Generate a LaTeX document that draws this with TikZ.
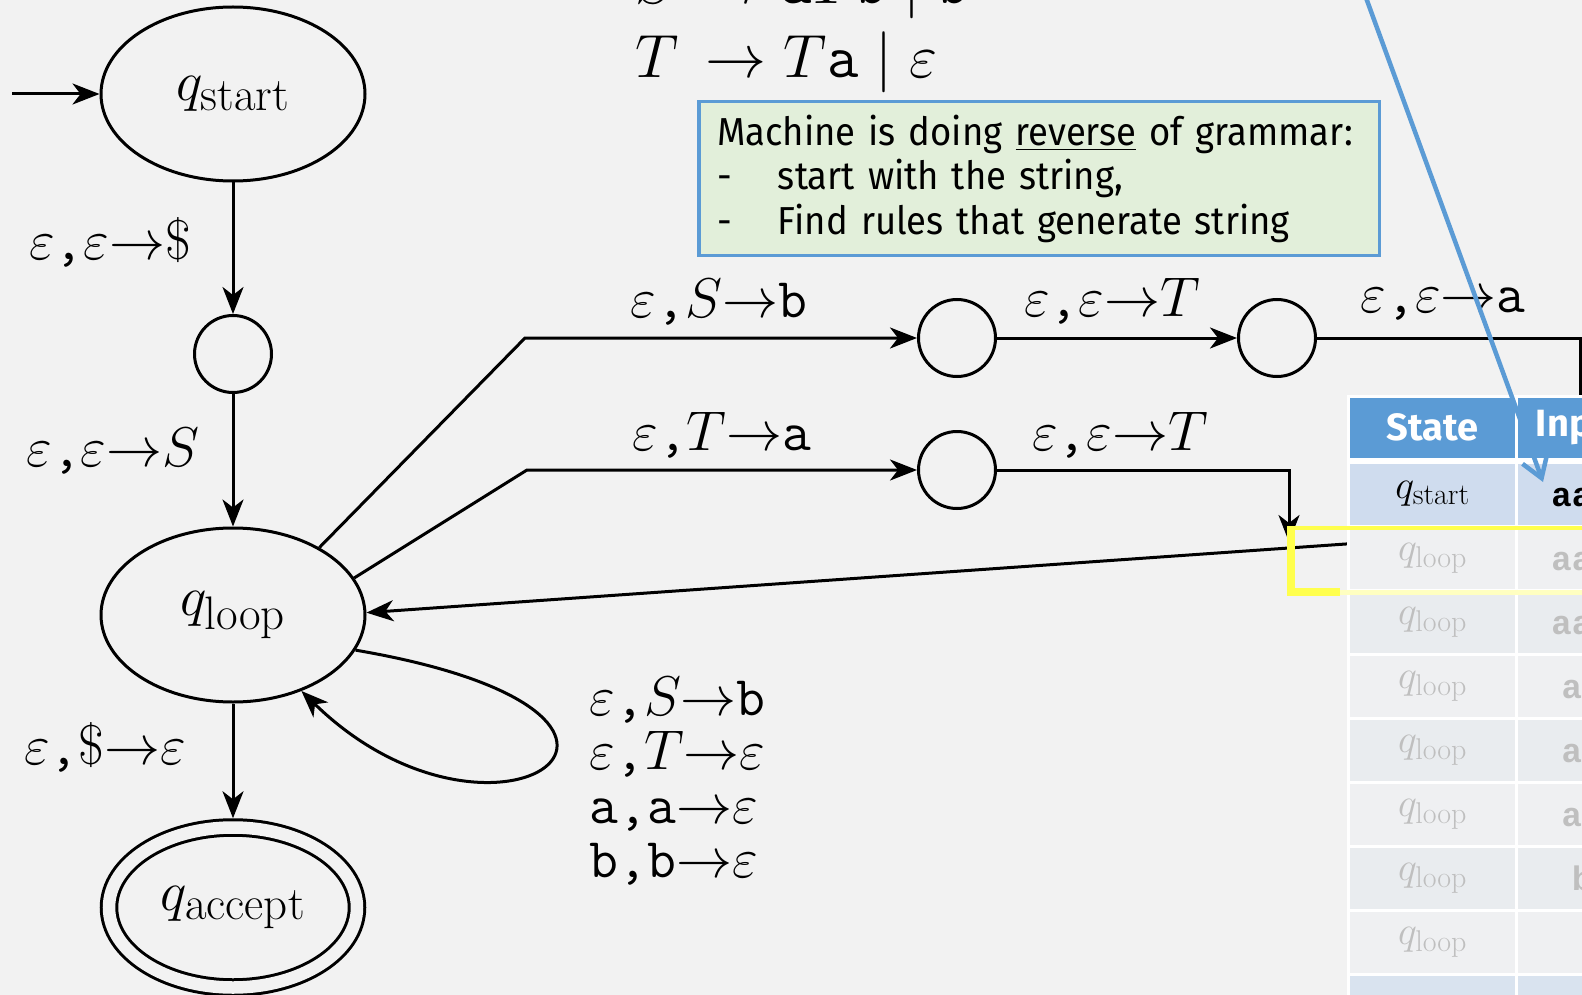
\documentclass[tikz,border=0pt]{standalone}
\usepackage{fix-cm}
\usepackage{amsmath}
\usepackage{fontspec}
\usepackage{tikz}
\usetikzlibrary{shapes.geometric,arrows.meta}

\newfontfamily\slidefont[FakeStretch=0.935]{Fira Sans}
\newfontfamily\headfont{Fira Sans}
\newfontfamily\codefont{Liberation Mono}

\DeclareMathSizes{56}{56}{47}{34}
\DeclareMathSizes{40}{40}{30}{22}

\definecolor{bg}{HTML}{F2F2F2}
\definecolor{slideblue}{HTML}{5B9BD5}
\definecolor{notegreen}{HTML}{E2EFDA}
\definecolor{rowblue}{HTML}{CFDCEE}
\definecolor{rowlight}{HTML}{EFF0F2}
\definecolor{rowdark}{HTML}{E9ECEF}
\definecolor{fadetext}{HTML}{BFBFBF}
\definecolor{hilite}{HTML}{FFFF4D}

\newcommand{\edgelab}[3]{$#1$\texttt{,}$#2{\to}#3$}

\begin{document}
\begin{tikzpicture}[x=1pt,y=-1pt,line width=3pt,
    >={Stealth[length=27pt,width=21pt,inset=8pt]},
    state/.style={ellipse,draw,minimum width=264pt,minimum height=174pt,inner sep=0pt,
        font=\fontsize{56}{56}\selectfont},
    anon/.style={circle,draw,minimum size=77pt,inner sep=0pt},
    lbl/.style={inner sep=0pt,font=\fontsize{56}{56}\selectfont},
    grammar/.style={inner sep=0pt,anchor=base west,font=\fontsize{61}{61}\selectfont},
    note/.style={draw=slideblue,fill=notegreen,line width=3.5pt,align=left,
        text width=644pt,inner xsep=18.25pt,inner ysep=0pt,minimum height=153.5pt,
        font=\slidefont\fontsize{39}{44.5}\selectfont},
    head/.style={fill=slideblue,draw=white,line width=3pt,minimum height=62.5pt,
        inner sep=0pt,text=white,font=\headfont\bfseries\fontsize{38}{38}\selectfont},
    cell/.style={draw=white,line width=3pt,minimum height=64pt,inner sep=0pt},
    statecol/.style={cell,minimum width=168pt,font=\fontsize{40}{40}\selectfont},
    inputcol/.style={cell,minimum width=131pt,font=\codefont\bfseries\fontsize{34}{34}\selectfont},
    pointer/.style={draw=slideblue,line width=4.5pt,-{Straight Barb[length=20pt,width=26pt]}}]

    \useasboundingbox (0,0) rectangle (1582,995);
    \clip (0,0) rectangle (1582,995);
    \fill[bg] (0,0) rectangle (1582,995);

    % Grammar
    \node[grammar] (rule1) at (634,4) {$S \,\rightarrow \texttt{a}T\texttt{b} \mid \texttt{b}$};
    \node[grammar] (rule2) at (634,78) {$T \,\rightarrow T\texttt{a} \mid \varepsilon$};

    % Note
    \node[note,anchor=north west] (note) at (697,100) {Machine is doing \underline{reverse} of grammar:\\
        \makebox[61pt][l]{-}start with the string,\\
        \makebox[61pt][l]{-}Find rules that generate string};

    % Nodes
    \node[state] (qstart) at (233,94) {$q_{\text{start}}$};
    \node[anon] (q1) at (233,354) {};
    \node[state] (qloop) at (233,615) {$q_{\text{loop}}$};
    \node[state,double=bg,double distance=12.5pt,minimum width=248pt,minimum height=160pt,
        outer sep=9.25pt] (qaccept) at (233,907.5) {$q_{\text{accept}}$};
    \node[anon] (q2) at (957,338) {};
    \node[anon] (q3) at (1277,338) {};
    \node[anon] (q4) at (957,470) {};

    \coordinate (init) at (12,94);
    \coordinate (bend1) at (525,338);
    \coordinate (bend2) at (527,470);
    \coordinate (offright) at (1580,420);
    \coordinate (drop) at (1289,542);
    \coordinate (back) at (1360,543);

    % Edges
    \draw[->] (init) -- (qstart);
    \draw[->] (qstart) -- (q1);
    \draw[->] (q1) -- (qloop);
    \draw[->] (qloop) -- (qaccept);
    \draw[->] (qloop.38) -- (bend1) -- (q2);
    \draw[->] (q2) -- (q3);
    \draw (q3) -| (offright);
    \draw[->] (qloop.17) -- (bend2) -- (q4);
    \draw[->] (q4) -| (drop);
    \draw[->] (back) -- (qloop.1);
    \draw[->] (qloop.-16) .. controls (735,715) and (495,880) .. (qloop.-48);

    % Edge labels
    \node[lbl] (l1) at (110,242) {\edgelab{\varepsilon}{\varepsilon}{\$}};
    \node[lbl] (l2) at (113,451) {\edgelab{\varepsilon}{\varepsilon}{S}};
    \node[lbl] (l3) at (105,747) {\edgelab{\varepsilon}{\$}{\varepsilon}};
    \node[lbl] (l4) at (719,302) {\edgelab{\varepsilon}{S}{\texttt{b}}};
    \node[lbl] (l5) at (1112,301) {\edgelab{\varepsilon}{\varepsilon}{T}};
    \node[lbl] (l6) at (1443,304) {\edgelab{\varepsilon}{\varepsilon}{\texttt{a}}};
    \node[lbl] (l7) at (722,435) {\edgelab{\varepsilon}{T}{\texttt{a}}};
    \node[lbl] (l8) at (1120,435) {\edgelab{\varepsilon}{\varepsilon}{T}};
    \node[lbl,align=left,anchor=west,font=\fontsize{56}{54}\selectfont] (l9) at (588,781)
        {\edgelab{\varepsilon}{S}{\texttt{b}}\\
         \edgelab{\varepsilon}{T}{\varepsilon}\\
         \edgelab{\texttt{a}}{\texttt{a}}{\varepsilon}\\
         \edgelab{\texttt{b}}{\texttt{b}}{\varepsilon}};

    % Table
    \node[head,minimum width=168pt] (hstate) at (1432.5,427.75) {State};
    \node[head,minimum width=131pt] (hinput) at (1582,427.75) {Input};
    \node[statecol,fill=rowblue] (s1) at (1432.5,494) {$q_{\text{start}}$};
    \node[inputcol,fill=rowblue] (in1) at (1582,494) {aab};
    \node[statecol,fill=rowlight,text=fadetext] (s2) at (1432.5,558) {$q_{\text{loop}}$};
    \node[inputcol,fill=rowlight,text=fadetext] (in2) at (1582,558) {aab};
    \node[statecol,fill=rowdark,text=fadetext] (s3) at (1432.5,622) {$q_{\text{loop}}$};
    \node[inputcol,fill=rowdark,text=fadetext] (in3) at (1582,622) {aab};
    \node[statecol,fill=rowlight,text=fadetext] (s4) at (1432.5,686) {$q_{\text{loop}}$};
    \node[inputcol,fill=rowlight,text=fadetext] (in4) at (1582,686) {ab};
    \node[statecol,fill=rowdark,text=fadetext] (s5) at (1432.5,750) {$q_{\text{loop}}$};
    \node[inputcol,fill=rowdark,text=fadetext] (in5) at (1582,750) {ab};
    \node[statecol,fill=rowlight,text=fadetext] (s6) at (1432.5,814) {$q_{\text{loop}}$};
    \node[inputcol,fill=rowlight,text=fadetext] (in6) at (1582,814) {ab};
    \node[statecol,fill=rowdark,text=fadetext] (s7) at (1432.5,878) {$q_{\text{loop}}$};
    \node[inputcol,fill=rowdark,text=fadetext] (in7) at (1582,878) {b};
    \node[statecol,fill=rowlight,text=fadetext] (s8) at (1432.5,942) {$q_{\text{loop}}$};
    \node[inputcol,fill=rowlight,text=fadetext] (in8) at (1582,942) {};
    \node[statecol,fill=rowblue!70!bg] (s9) at (1432.5,1006) {};
    \node[inputcol,fill=rowblue!70!bg] (in9) at (1582,1006) {};

    % Highlight
    \draw[hilite,line width=4.5pt] (1600,528) -- (1287,528);
    \draw[hilite,line width=8pt] (1291,526) -- (1291,592) -- (1340,592);
    \draw[hilite!35,line width=5pt] (1340,592) -- (1600,592);

    % Pointer
    \coordinate (callfrom) at (1365,-5);
    \coordinate (callto) at (1543,482);
    \draw[pointer] (callfrom) -- (callto);
\end{tikzpicture}
\end{document}
